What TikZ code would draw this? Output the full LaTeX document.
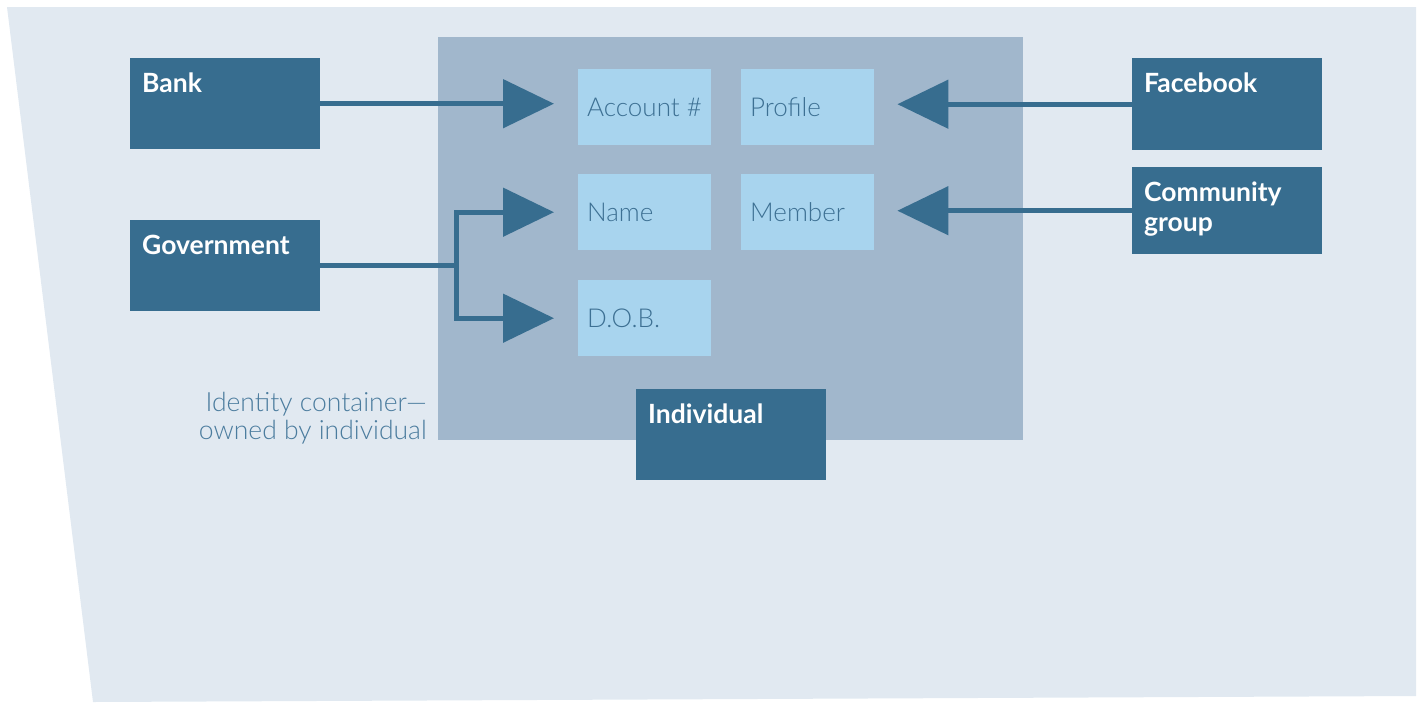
\documentclass[tikz,border=0pt]{standalone}
\usepackage{fontspec}
\setmainfont{Lato}
\newfontfamily\lightfont{Lato Light}
\usepackage{xcolor}
\definecolor{pagebg}{HTML}{E1E9F1}
\definecolor{holder}{HTML}{A1B7CC}
\definecolor{party}{HTML}{376D8F}
\definecolor{attr}{HTML}{A8D4EE}
\definecolor{attrtext}{HTML}{3D7093}
\definecolor{notetext}{HTML}{4B7C9E}
\usetikzlibrary{arrows.meta,positioning,calc}

\begin{document}
\begin{tikzpicture}[
  x=1pt, y=-1pt,
  P/.style={fill=party, minimum width=190pt, minimum height=91pt, inner sep=0pt,
    anchor=north west},
  plabel/.style={label={[anchor=north west, inner xsep=12pt, inner ysep=15pt,
    text=white, align=left, font=\fontsize{26.5}{30}\selectfont\bfseries]north west:#1}},
  A/.style={fill=attr, minimum width=133pt, minimum height=76pt, inner sep=0pt,
    anchor=north west},
  alabel/.style={label={[anchor=west, inner xsep=9pt, text=attrtext,
    font=\fontsize{26}{28}\lightfont]west:#1}},
  link/.style={draw=party, line width=5pt,
    -{Triangle[length=51pt, width=48pt]}}
]
  % background sheet
  \fill[pagebg] (7,7) -- (1416,7) -- (1416,696) -- (93,702) -- cycle;
  \useasboundingbox (0,0) rectangle (1420,702);

  % identity container
  \node[fill=holder, minimum width=585pt, minimum height=403pt, inner sep=0pt,
    anchor=north west] (box) at (438,37) {};
  \node[anchor=north east, align=right, text=notetext, inner sep=0pt,
    font=\fontsize{26.5}{28}\lightfont] (note) at (427,392)
    {Identity container—\\owned by individual};

  % attributes
  \node[A, alabel={Account \#}] (acct) at (578,69) {};
  \node[A, alabel={Profile}] (prof) at (741,69) {};
  \node[A, alabel={Name}] (name) at (578,174) {};
  \node[A, alabel={Member}] (memb) at (741,174) {};
  \node[A, alabel={D.O.B.}] (dob) at (578,280) {};

  % parties
  \node[P, plabel={Bank}] (bank) at (130,58) {};
  \node[P, plabel={Government}] (gov) at (130,220) {};
  \node[P, minimum height=92pt, plabel={Facebook}] (fb) at (1132,58) {};
  \node[P, minimum height=87pt, plabel={Community\\group}] (comm) at (1132,167) {};
  \node[P, plabel={Individual}] (indiv) at (636,389) {};

  % connectors
  \draw[link, shorten >=24pt] (bank.east) -- (bank.east -| acct.west);
  \draw[link, -] (gov.east) -- ++(136,0) coordinate (split);
  \draw[link, shorten >=24pt] (split) |- (name.west);
  \draw[link, shorten >=24pt] (split) |- (dob.west);
  \draw[link, shorten >=23pt] (fb.west) -- (fb.west -| prof.east);
  \draw[link, shorten >=23pt] (comm.west) -- (comm.west -| memb.east);
\end{tikzpicture}
\end{document}
